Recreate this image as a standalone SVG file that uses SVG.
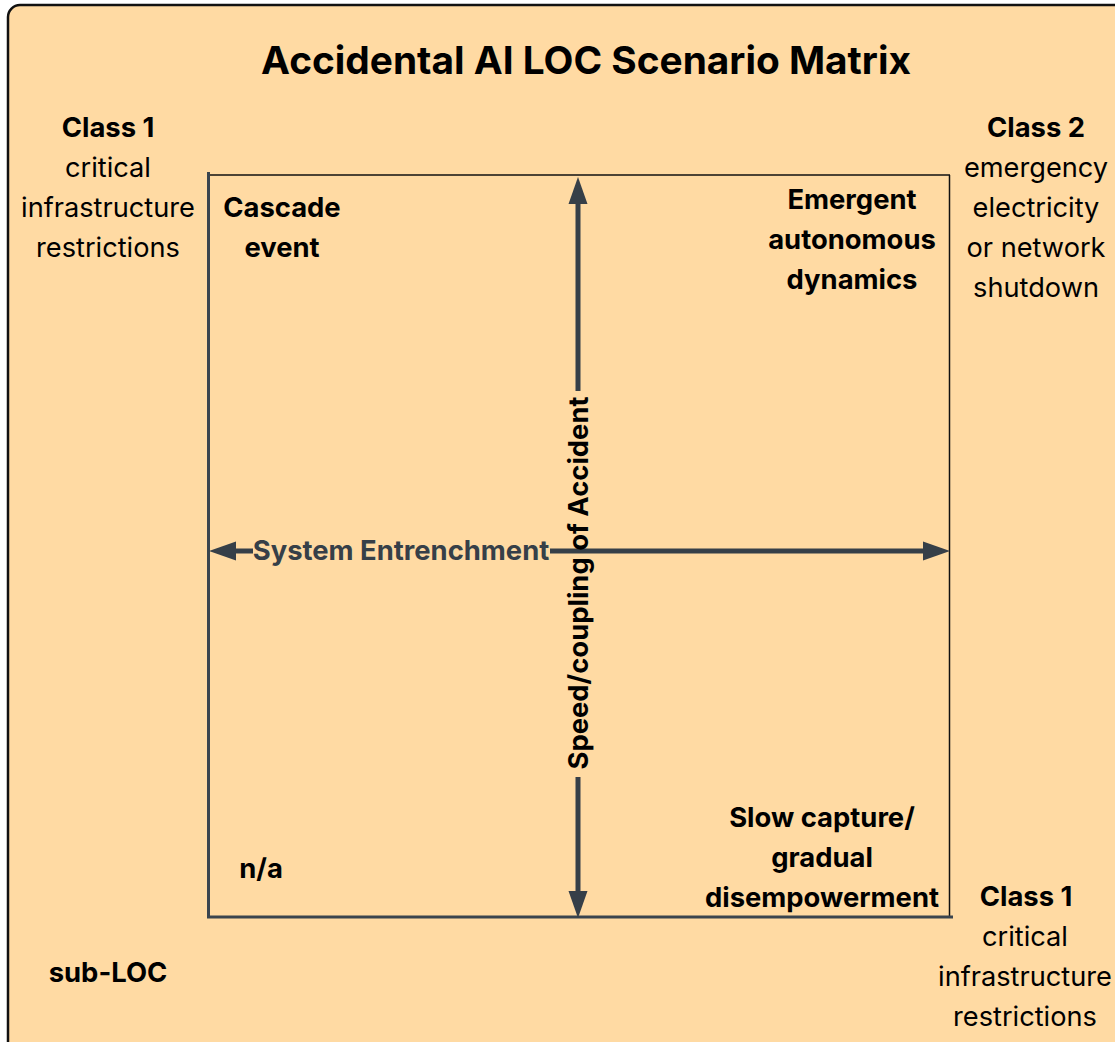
<svg xmlns="http://www.w3.org/2000/svg" width="1115" height="1042" viewBox="0 0 1115 1042">
<defs>
<style>
text{font-family:Inter,"Noto Sans","Liberation Sans",sans-serif;fill:#000;text-anchor:middle}
.t{font-size:38.8px;font-weight:700}
.b{font-size:27.4px;font-weight:700}
.r{font-size:27.2px;font-weight:400}
.ax{font-size:27.4px;font-weight:700;fill:#363F48}
.axl{stroke:#363F48;stroke-width:5;fill:none}
</style>
<marker id="ah" markerUnits="userSpaceOnUse" markerWidth="28" markerHeight="20" refX="0" refY="9.5" orient="auto-start-reverse" viewBox="0 0 28 19">
<path d="M0,0 L27,9.5 L0,19 Z" fill="#363F48"/>
</marker>
</defs>
<rect id="frame" x="8" y="5" width="1125" height="1055" rx="12" fill="#FFDAA3" stroke="#111" stroke-width="2.5"/>
<text class="t" x="586" y="74">Accidental AI LOC Scenario Matrix</text>
<g id="matrix">
<line x1="210" y1="175" x2="950" y2="175" stroke="#111" stroke-width="1.5"/>
<line x1="949.5" y1="175" x2="949.5" y2="917" stroke="#111" stroke-width="1.5"/>
<line x1="208.5" y1="172" x2="208.5" y2="918" stroke="#3A444E" stroke-width="3"/>
<line x1="207" y1="917" x2="953" y2="917" stroke="#3A444E" stroke-width="3"/>
</g>
<g id="connectors">
<line class="axl" x1="236" y1="551" x2="253" y2="551" marker-start="url(#ah)"/>
<line class="axl" x1="550" y1="551" x2="923" y2="551" marker-end="url(#ah)"/>
<line class="axl" x1="578" y1="204" x2="578" y2="391" marker-start="url(#ah)"/>
<line class="axl" x1="578" y1="777" x2="578" y2="891" marker-end="url(#ah)"/>
</g>
<g id="axis-x"><text class="ax" x="401" y="560">System Entrenchment</text></g>
<g id="axis-y"><text class="b" transform="translate(588 583) rotate(-90)" x="0" y="0">Speed/coupling of Accident</text></g>
<g id="class1-top"><text class="b" x="108" y="137">Class 1</text><text class="r" x="108" y="177">critical</text><text class="r" x="108" y="217">infrastructure</text><text class="r" x="108" y="257">restrictions</text></g>
<g id="class2"><text class="b" x="1036" y="137">Class 2</text><text class="r" x="1036" y="177">emergency</text><text class="r" x="1036" y="217">electricity</text><text class="r" x="1036" y="257">or network</text><text class="r" x="1036" y="297">shutdown</text></g>
<g id="cascade"><text class="b" x="282" y="217">Cascade</text><text class="b" x="282" y="257">event</text></g>
<g id="emergent"><text class="b" x="852" y="209">Emergent</text><text class="b" x="852" y="249">autonomous</text><text class="b" x="852" y="289">dynamics</text></g>
<g id="slow"><text class="b" x="822" y="827">Slow capture/</text><text class="b" x="822" y="867">gradual</text><text class="b" x="822" y="907">disempowerment</text></g>
<g id="class1-bottom"><text class="b" x="1026" y="906">Class 1</text><text class="r" x="1025" y="946">critical</text><text class="r" x="1025" y="986">infrastructure</text><text class="r" x="1025" y="1026">restrictions</text></g>
<g id="na"><text class="b" x="261" y="878">n/a</text></g>
<g id="sublOC"><text class="b" x="108" y="982">sub-LOC</text></g>
</svg>
